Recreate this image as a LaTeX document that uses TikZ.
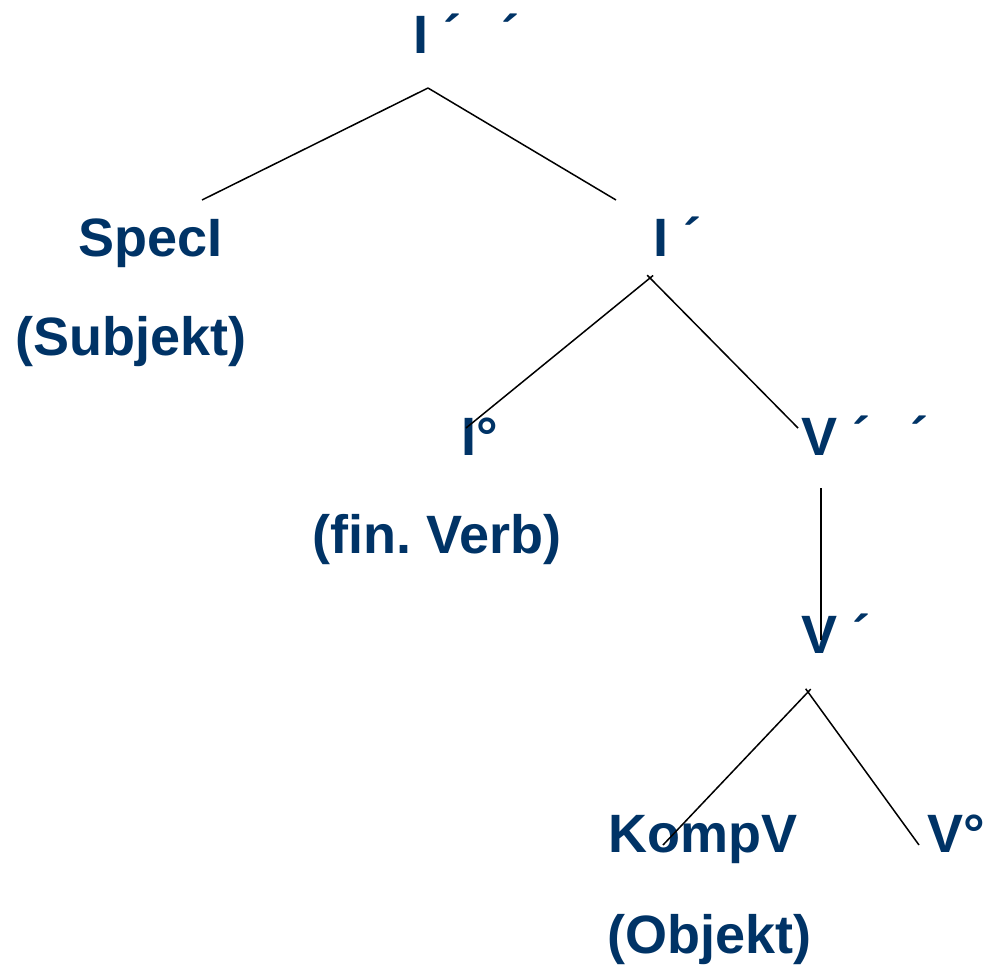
\documentclass[tikz,border=0pt]{standalone}
\usepackage{fontspec}
\setmainfont{Liberation Sans}
\usepackage{xcolor}
\usetikzlibrary{positioning}
\definecolor{treeblue}{RGB}{0,51,102}
\frenchspacing

\begin{document}
\begin{tikzpicture}[x=0.5pt,y=-0.5pt]
  \tikzset{lab/.style={anchor=base west,inner sep=0,text=treeblue,font=\fontsize{27}{32}\selectfont\bfseries}}
  \tikzset{branch/.style={line width=0.75pt}}
  \def\gap{\hspace{0.74em}}
  \useasboundingbox (0,0) rectangle (984,964);
  % labels
  \node[lab] (Ipp) at (413,53) {I ´\gap´};
  \node[lab] (SpecI) at (78,256) {SpecI};
  \node[lab] (Subj) at (15,355) {(Subjekt)};
  \node[lab] (Ip) at (653,256) {I ´};
  \node[lab] (I0) at (461,455) {I°};
  \node[lab] (finV) at (312,553) {(fin. Verb)};
  \node[lab] (Vpp) at (801,455) {V ´\gap´};
  \node[lab] (Vp) at (801,653) {V ´};
  \node[lab] (KompV) at (608,852) {KompV};
  \node[lab] (Obj) at (607,953) {(Objekt)};
  \node[lab] (V0) at (927,852) {V°};
  % branch points
  \coordinate (IppTop) at (428,88);
  \coordinate (SpecIEnd) at (202,200);
  \coordinate (IpEnd) at (616,200);
  \coordinate (IpTop) at (650,278);
  \coordinate (I0End) at (466,428);
  \coordinate (VppEnd) at (798,428);
  \coordinate (VppBot) at (821,488);
  \coordinate (VpEnd) at (821,640);
  \coordinate (VpTop) at (808,692);
  \coordinate (KompVEnd) at (663,845);
  \coordinate (V0End) at (919,845);
  % branches
  \draw[branch] (IppTop) -- (SpecIEnd);
  \draw[branch] (IppTop) -- (IpEnd);
  \draw[branch,shorten <=-2pt] (IpTop) -- (I0End);
  \draw[branch,shorten <=-2pt] (IpTop) -- (VppEnd);
  \draw[branch] (VppBot) -- (VpEnd);
  \draw[branch,shorten <=-2pt] (VpTop) -- (KompVEnd);
  \draw[branch,shorten <=-2pt] (VpTop) -- (V0End);
\end{tikzpicture}
\end{document}
